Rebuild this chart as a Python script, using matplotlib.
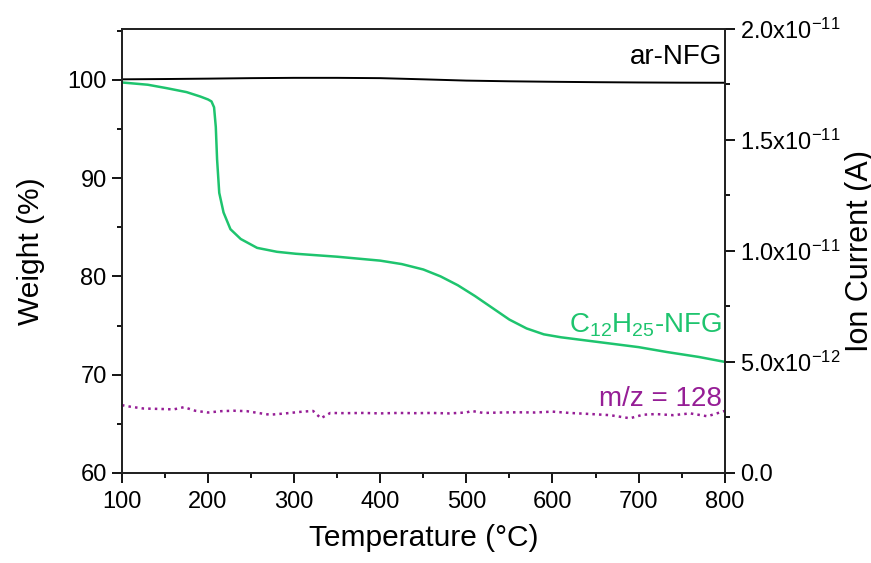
import matplotlib.pyplot as plt
from matplotlib.ticker import MultipleLocator, FuncFormatter
import numpy as np

plt.rcParams['font.family'] = ['Liberation Sans', 'DejaVu Sans']
plt.rcParams['mathtext.default'] = 'regular'

# TGA data: ar-NFG (black)
ar_temp = [100, 150, 200, 250, 300, 350, 400, 450, 500, 550, 600, 650, 700, 750, 800]
ar_weight = [100.05, 100.08, 100.12, 100.17, 100.2, 100.2, 100.17, 100.05, 99.92, 99.85, 99.8, 99.76, 99.73, 99.71, 99.7]

# TGA data: C12H25-NFG (green)
c12_temp = [100, 130, 152, 175, 191, 200, 204, 207, 209, 210.5, 213, 218, 226, 238,
            257, 280, 302, 350, 400, 425, 450, 470, 490, 510, 530, 550, 570, 590, 610,
            655, 700, 733, 770, 800]
c12_weight = [99.73, 99.5, 99.15, 98.75, 98.3, 98.0, 97.8, 97.2, 95.2, 91.9, 88.5, 86.5, 84.8, 83.8,
              82.9, 82.5, 82.3, 82.0, 81.6, 81.25, 80.7, 80.0, 79.1, 78.0, 76.8, 75.6, 74.7, 74.1, 73.8,
              73.3, 72.8, 72.3, 71.8, 71.3]

# MS ion current m/z = 128 (purple, right axis), in 1e-12 A
ms_temp = [100, 110, 125, 145, 160, 172, 185, 200, 215, 230, 245, 258, 272, 290, 310, 322, 331,
           342, 360, 380, 400, 420, 440, 460, 480, 500, 506, 520, 540, 560, 580, 600, 620, 645,
           667, 690, 705, 720, 740, 760, 780, 795, 800]
ms_current = [3.05, 2.98, 2.90, 2.88, 2.86, 2.96, 2.80, 2.72, 2.78, 2.80, 2.78, 2.70, 2.62, 2.68,
              2.76, 2.79, 2.46, 2.70, 2.69, 2.70, 2.68, 2.70, 2.69, 2.70, 2.68, 2.72, 2.79, 2.70,
              2.72, 2.73, 2.72, 2.76, 2.70, 2.65, 2.60, 2.46, 2.62, 2.65, 2.60, 2.68, 2.55, 2.73, 2.79]
ms_current = [v * 1e-12 for v in ms_current]

green = '#1ec46e'
purple = '#961e96'

fig = plt.figure(figsize=(8.71, 5.63), dpi=100)
ax = fig.add_axes([0.140, 0.160, 0.692, 0.789])
ax2 = ax.twinx()

ax.plot(ar_temp, ar_weight, color='black', lw=1.4)
ax.plot(c12_temp, c12_weight, color=green, lw=1.8)
ax2.plot(ms_temp, ms_current, color=purple, lw=1.8, ls=':')

ax.set_xlim(100, 800)
ax.set_ylim(60, 105.2)
ax2.set_ylim(0, 2.0e-11)

ax.xaxis.set_major_locator(MultipleLocator(100))
ax.xaxis.set_minor_locator(MultipleLocator(50))
ax.yaxis.set_major_locator(MultipleLocator(10))
ax.yaxis.set_minor_locator(MultipleLocator(5))
ax2.yaxis.set_major_locator(MultipleLocator(5e-12))
ax2.yaxis.set_minor_locator(MultipleLocator(2.5e-12))


def sci(v, pos):
    if abs(v) < 1e-20:
        return '0.0'
    e = int(np.floor(np.log10(abs(v))))
    m = v / 10 ** e
    return '%.1fx10$^{%d}$' % (m, e)


ax2.yaxis.set_major_formatter(FuncFormatter(sci))

for a in (ax, ax2):
    for s in a.spines.values():
        s.set_linewidth(1.3)
        s.set_color('#222222')
    a.tick_params(which='both', direction='out', width=1.3, labelsize=17)
    a.tick_params(which='major', length=7)
    a.tick_params(which='minor', length=3.5)
ax.tick_params(which='both', top=False, right=False)
ax.tick_params(axis='x', pad=6)
ax.tick_params(axis='y', pad=4)
ax2.tick_params(axis='y', pad=4)

ax.set_xlabel('Temperature (°C)', fontsize=21.5, labelpad=8)
ax.set_ylabel('Weight (%)', fontsize=21.5, labelpad=16)
ax2.set_ylabel('Ion Current (A)', fontsize=22, labelpad=3)

ax.text(797, 101.0, 'ar-NFG', color='black', fontsize=20, ha='right', va='bottom')
ax.text(797, 73.6, 'C$_{12}$H$_{25}$-NFG', color=green, fontsize=20, ha='right', va='bottom')
ax.text(797, 66.2, 'm/z = 128', color=purple, fontsize=20, ha='right', va='bottom')

fig.savefig('out.png', dpi=100)
